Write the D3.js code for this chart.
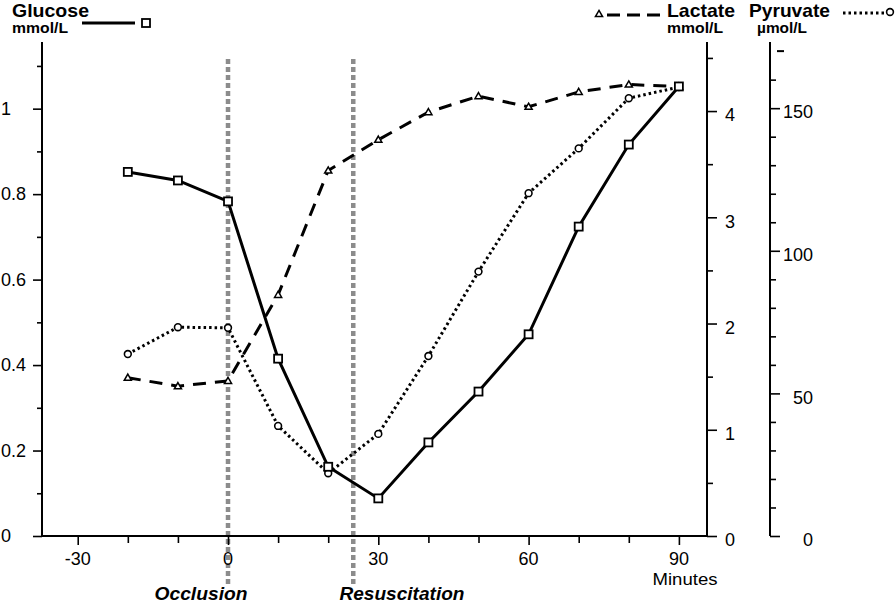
<!DOCTYPE html>
<html>
<head>
<meta charset="utf-8">
<script src="https://cdn.jsdelivr.net/npm/d3@7"></script>
<style>
  html, body { margin: 0; padding: 0; background: #fff; }
  svg { display: block; font-family: "Liberation Sans", Arial, sans-serif; }
</style>
</head>
<body>
<div id="chart"></div>
<script>
// Data (minutes after occlusion)
const minutes = [-20, -10, 0, 10, 20, 30, 40, 50, 60, 70, 80, 90];
const glucose = [0.852, 0.832, 0.783, 0.415, 0.162, 0.088, 0.219, 0.338, 0.472, 0.724, 0.916, 1.052];
const lactate = [1.49, 1.41, 1.46, 2.27, 3.44, 3.73, 3.99, 4.14, 4.04, 4.18, 4.25, 4.23];
const pyruvate = [63.8, 73.2, 73.0, 38.6, 22.0, 35.8, 63.1, 92.7, 120.2, 135.9, 153.5, 157.4];

// Tick values
const xTicks = d3.range(-30, 91, 10);
const xLabels = [-30, 0, 30, 60, 90];
const glucoseTicks = d3.range(0, 11.5, 1).map((d) => +(d / 10).toFixed(1));
const glucoseLabels = [0, 0.2, 0.4, 0.6, 0.8, 1];
const lactateTicks = d3.range(0, 4.6, 0.5);
const lactateLabels = [0, 1, 2, 3, 4];
const pyruvateTicks = d3.range(0, 161, 10);
const pyruvateLabels = [0, 50, 100, 150];

// Event markers
const events = [
  { t: 0, label: "Occlusion", cx: 201, len: 93 },
  { t: 25, label: "Resuscitation", cx: 402, len: 125 },
];

const width = 896;
const height = 603;
const plotTop = 42;
const plotBottom = 536;
const plotLeft = 42;
const plotRight = 707;
const pyrAxisX = 770;

const x = d3.scaleLinear().domain([-37.13, 95.61]).range([plotLeft, plotRight]);
const yG = d3.scaleLinear().domain([0, 1.156]).range([plotBottom, plotTop]);
const yL = d3.scaleLinear().domain([0, 4.65]).range([plotBottom, plotTop]);
const yP = d3.scaleLinear().domain([0, 173.2]).range([plotBottom, plotTop]);

const svg = d3
  .select("#chart")
  .append("svg")
  .attr("width", width)
  .attr("height", height)
  .attr("viewBox", [0, 0, width, height]);

// Gray event lines (behind the data)
svg
  .append("g")
  .selectAll("line")
  .data(events)
  .join("line")
  .attr("x1", (d) => x(d.t))
  .attr("x2", (d) => x(d.t))
  .attr("y1", 59)
  .attr("y2", 587)
  .attr("stroke", "#8c8c8c")
  .attr("stroke-width", 4.5)
  .attr("stroke-dasharray", "5,3");

svg
  .append("g")
  .selectAll("text")
  .data(events)
  .join("text")
  .attr("x", (d) => d.cx)
  .attr("y", 600)
  .attr("text-anchor", "middle")
  .attr("font-size", 18)
  .attr("font-weight", "bold")
  .attr("font-style", "italic")
  .attr("textLength", (d) => d.len)
  .attr("lengthAdjust", "spacingAndGlyphs")
  .text((d) => d.label);

// Axis styling helper
function styleAxis(g) {
  g.select(".domain").attr("stroke", "#000").attr("stroke-width", 2);
  g.selectAll(".tick line").attr("stroke", "#000").attr("stroke-width", 1.6);
  g.selectAll(".tick text").remove();
}

// X axis
const gx = svg
  .append("g")
  .attr("transform", `translate(0,${plotBottom})`)
  .call(d3.axisBottom(x).tickValues(xTicks).tickSizeOuter(0))
  .call(styleAxis);
gx.selectAll(".tick line").attr("y2", (d) => (xLabels.includes(d) ? 9 : 7));
gx.select(".domain").attr("d", `M${plotLeft},0H${plotRight}`);

svg
  .append("g")
  .selectAll("text")
  .data(xLabels)
  .join("text")
  .attr("x", (d) => x(d))
  .attr("y", 565)
  .attr("text-anchor", "middle")
  .attr("font-size", 18)
  .text((d) => d);

svg
  .append("text")
  .attr("x", 685)
  .attr("y", 585)
  .attr("text-anchor", "middle")
  .attr("font-size", 17)
  .attr("textLength", 65)
  .attr("lengthAdjust", "spacingAndGlyphs")
  .text("Minutes");

// Glucose axis (left)
const gG = svg
  .append("g")
  .attr("transform", `translate(${plotLeft},0)`)
  .call(d3.axisLeft(yG).tickValues(glucoseTicks).tickSizeOuter(0))
  .call(styleAxis);
gG.selectAll(".tick line").attr("x2", (d) => (glucoseLabels.includes(d) ? -9 : -5));
gG.select(".domain").attr("d", `M0,${plotTop}V${plotBottom}`);

svg
  .append("g")
  .selectAll("text")
  .data(glucoseLabels)
  .join("text")
  .attr("x", 1)
  .attr("y", (d) => yG(d))
  .attr("dy", "0.35em")
  .attr("font-size", 18)
  .text((d) => d);

// Lactate axis
const gL = svg
  .append("g")
  .attr("transform", `translate(${plotRight},0)`)
  .call(d3.axisRight(yL).tickValues(lactateTicks).tickSizeOuter(0))
  .call(styleAxis);
gL.selectAll(".tick line").attr("x2", (d) => (lactateLabels.includes(d) ? 10 : 6));
gL.select(".domain").attr("d", `M0,${plotTop}V${plotBottom}`);

svg
  .append("g")
  .selectAll("text")
  .data(lactateLabels)
  .join("text")
  .attr("x", 725)
  .attr("y", (d) => yL(d) + 4)
  .attr("dy", "0.35em")
  .attr("font-size", 18)
  .text((d) => d);

// Pyruvate axis
const gP = svg
  .append("g")
  .attr("transform", `translate(${pyrAxisX},0)`)
  .call(d3.axisRight(yP).tickValues(pyruvateTicks).tickSizeOuter(0))
  .call(styleAxis);
gP.selectAll(".tick line").attr("x2", (d) => (pyruvateLabels.includes(d) ? 10 : 6));
gP.select(".domain").attr("d", `M0,${plotTop}V${plotBottom}`);

svg
  .append("g")
  .selectAll("text")
  .data(pyruvateLabels)
  .join("text")
  .attr("x", 813)
  .attr("y", (d) => yP(d) + 4)
  .attr("dy", "0.35em")
  .attr("text-anchor", "end")
  .attr("font-size", 18)
  .text((d) => d);

// stray dash near the top of the pyruvate axis
svg
  .append("line")
  .attr("x1", pyrAxisX + 7)
  .attr("x2", pyrAxisX + 14)
  .attr("y1", yP(170))
  .attr("y2", yP(170))
  .attr("stroke", "#000")
  .attr("stroke-width", 2);

// Series
const series = [
  { name: "pyruvate", values: pyruvate, y: yP, dash: "2.5,3", marker: "circle" },
  { name: "lactate", values: lactate, y: yL, dash: "13,9", marker: "triangle" },
  { name: "glucose", values: glucose, y: yG, dash: null, marker: "square" },
];

const triangle = d3.symbol().type(d3.symbolTriangle).size(22);

function drawMarker(g, type, cx, cy) {
  if (type === "square") {
    g.append("rect")
      .attr("x", cx - 4)
      .attr("y", cy - 4)
      .attr("width", 8)
      .attr("height", 8)
      .attr("fill", "#fff")
      .attr("stroke", "#000")
      .attr("stroke-width", 1.8);
  } else if (type === "circle") {
    g.append("circle")
      .attr("cx", cx)
      .attr("cy", cy)
      .attr("r", 3.4)
      .attr("fill", "#fff")
      .attr("stroke", "#000")
      .attr("stroke-width", 1.6);
  } else {
    g.append("path")
      .attr("transform", `translate(${cx},${cy + 0.5})`)
      .attr("d", triangle())
      .attr("fill", "#fff")
      .attr("stroke", "#000")
      .attr("stroke-width", 1.5);
  }
}

series.forEach((s) => {
  const pts = minutes.map((t, i) => [t, s.values[i]]);
  const line = d3
    .line()
    .x((d) => x(d[0]))
    .y((d) => s.y(d[1]));

  svg
    .append("path")
    .datum(pts)
    .attr("fill", "none")
    .attr("stroke", "#000")
    .attr("stroke-width", 3)
    .attr("stroke-dasharray", s.dash)
    .attr("d", line);

  const g = svg.append("g");
  pts.forEach((d) => drawMarker(g, s.marker, x(d[0]), s.y(d[1])));
});

// Legends
function legendText(px, py, size, len, txt) {
  svg
    .append("text")
    .attr("x", px)
    .attr("y", py)
    .attr("font-size", size)
    .attr("font-weight", "bold")
    .attr("textLength", len)
    .attr("lengthAdjust", "spacingAndGlyphs")
    .text(txt);
}

legendText(12, 17, 18.5, 77, "Glucose");
legendText(12, 33, 14, 56, "mmol/L");
svg.append("line")
  .attr("x1", 82).attr("x2", 135).attr("y1", 23).attr("y2", 23)
  .attr("stroke", "#000").attr("stroke-width", 3);
drawMarker(svg.append("g"), "square", 146, 23);

legendText(667, 17, 18.5, 68, "Lactate");
legendText(667, 33, 14, 56, "mmol/L");
svg.append("line")
  .attr("x1", 607).attr("x2", 660).attr("y1", 15).attr("y2", 15)
  .attr("stroke", "#000").attr("stroke-width", 3)
  .attr("stroke-dasharray", "13,7");
drawMarker(svg.append("g"), "triangle", 599, 14);

legendText(749, 17, 18.5, 81, "Pyruvate");
legendText(757, 33, 14, 50, "µmol/L");
svg.append("line")
  .attr("x1", 843).attr("x2", 885).attr("y1", 13).attr("y2", 13)
  .attr("stroke", "#000").attr("stroke-width", 3)
  .attr("stroke-dasharray", "2.5,3");
drawMarker(svg.append("g"), "circle", 890, 12);
</script>
</body>
</html>
